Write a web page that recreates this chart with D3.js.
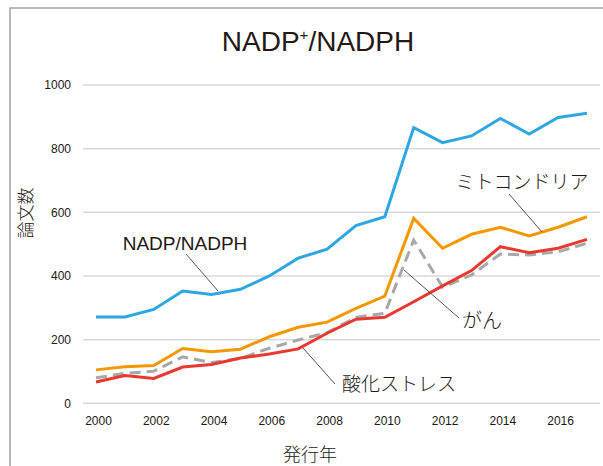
<!DOCTYPE html>
<html>
<head>
<meta charset="utf-8">
<script src="https://cdn.jsdelivr.net/npm/d3@7"></script>
<style>
  body { margin: 0; background: #fff; }
  svg { display: block; }
  .latin { font-family: 'Liberation Sans', Arial, sans-serif; fill: #231815; }
  .jp { font-family: 'Noto Sans CJK JP', 'Noto Sans', sans-serif; fill: #231815; font-weight: 300; }
</style>
</head>
<body>
<svg id="chart" width="603" height="466"></svg>
<script>
const years = [2000, 2001, 2002, 2003, 2004, 2005, 2006, 2007, 2008, 2009,
  2010, 2011, 2012, 2013, 2014, 2015, 2016, 2017];
const nadph = [271, 271, 295, 353, 342, 358, 400, 456, 484, 558, 586, 866, 819, 840, 895, 846, 898, 911];
const mitochondria = [105, 115, 119, 172, 162, 170, 209, 239, 255, 298, 337, 581, 487, 531, 553, 526, 553, 586];
const cancer = [80, 94, 101, 146, 128, 141, 173, 199, 222, 270, 283, 513, 365, 403, 469, 466, 476, 503];
const oxidative = [67, 87, 78, 114, 122, 142, 155, 171, 220, 264, 270, 319, 369, 417, 492, 473, 487, 515];
const yTicks = [0, 200, 400, 600, 800, 1000];
const xTicks = [2000, 2002, 2004, 2006, 2008, 2010, 2012, 2014, 2016];

const svg = d3.select('#chart');

// outer frame, runs off the right and bottom edges like the source
svg.append('rect')
  .attr('x', 10).attr('y', 8)
  .attr('width', 620).attr('height', 480)
  .attr('fill', 'none')
  .attr('stroke', '#a3a3a3')
  .attr('stroke-width', 1.5);

const x = d3.scaleLinear().domain([2000, 2017]).range([96, 587]);
const y = d3.scaleLinear().domain([0, 1000]).range([403.3, 85]);

// gridlines
svg.append('g')
  .selectAll('line')
  .data(yTicks)
  .enter()
  .append('line')
  .attr('x1', 83).attr('x2', 600)
  .attr('y1', d => y(d)).attr('y2', d => y(d))
  .attr('stroke', '#d9d9d9')
  .attr('stroke-width', 1.5);

// y axis
const yAxis = svg.append('g')
  .attr('transform', 'translate(71,0)')
  .call(d3.axisLeft(y).tickValues(yTicks).tickSize(0).tickPadding(0).tickFormat(d3.format('d')));
yAxis.select('.domain').remove();
yAxis.selectAll('text')
  .attr('class', 'latin')
  .style('font-size', '12px')
  .attr('fill', '#231815');

// x axis
const xAxis = svg.append('g')
  .attr('transform', 'translate(2,416)')
  .call(d3.axisBottom(x).tickValues(xTicks).tickSize(0).tickPadding(0).tickFormat(d3.format('d')));
xAxis.select('.domain').remove();
xAxis.selectAll('text')
  .attr('class', 'latin')
  .style('font-size', '12px')
  .attr('fill', '#231815');

// series
const line = d3.line().x((d, i) => x(years[i])).y(d => y(d));

const series = [
  { values: nadph, color: '#2ea7e0', dash: null },
  { values: cancer, color: '#a8a8a8', dash: '11,6' },
  { values: mitochondria, color: '#f39800', dash: null },
  { values: oxidative, color: '#e8382f', dash: null }
];

svg.append('g')
  .selectAll('path')
  .data(series)
  .enter()
  .append('path')
  .attr('d', d => line(d.values))
  .attr('fill', 'none')
  .attr('stroke', d => d.color)
  .attr('stroke-width', 3)
  .attr('stroke-dasharray', d => d.dash)
  .attr('stroke-linejoin', 'miter');

// title
const title = svg.append('text')
  .attr('class', 'latin')
  .attr('x', 318).attr('y', 51)
  .attr('text-anchor', 'middle')
  .style('font-size', '28px');
title.append('tspan').text('NADP');
title.append('tspan').text('+').style('font-size', '15px').attr('dy', -11);
title.append('tspan').text('/NADPH').attr('dy', 11);

// axis titles
svg.append('text')
  .attr('class', 'jp')
  .attr('transform', 'translate(32,213) rotate(-90)')
  .attr('text-anchor', 'middle')
  .style('font-size', '17px')
  .text('論文数');

svg.append('text')
  .attr('class', 'jp')
  .attr('x', 310).attr('y', 461)
  .attr('text-anchor', 'middle')
  .style('font-size', '18px')
  .text('発行年');

// callouts
const callouts = [
  { text: 'NADP/NADPH', cls: 'latin', size: 19, tx: 185, ty: 250, line: [186, 254, 218, 291] },
  { text: 'ミトコンドリア', cls: 'jp', size: 19, tx: 522, ty: 189, line: [509, 194, 542, 232] },
  { text: 'がん', cls: 'jp', size: 20, tx: 482, ty: 328, line: [404, 270, 459, 318] },
  { text: '酸化ストレス', cls: 'jp', size: 19, tx: 399, ty: 391, line: [303, 348, 335, 384] }
];

const co = svg.append('g').selectAll('g').data(callouts).enter().append('g');
co.append('line')
  .attr('x1', d => d.line[0]).attr('y1', d => d.line[1])
  .attr('x2', d => d.line[2]).attr('y2', d => d.line[3])
  .attr('stroke', '#555')
  .attr('stroke-width', 1);
co.append('text')
  .attr('class', d => d.cls)
  .attr('x', d => d.tx).attr('y', d => d.ty)
  .attr('text-anchor', 'middle')
  .style('font-size', d => `${d.size}px`)
  .text(d => d.text);
</script>
</body>
</html>
